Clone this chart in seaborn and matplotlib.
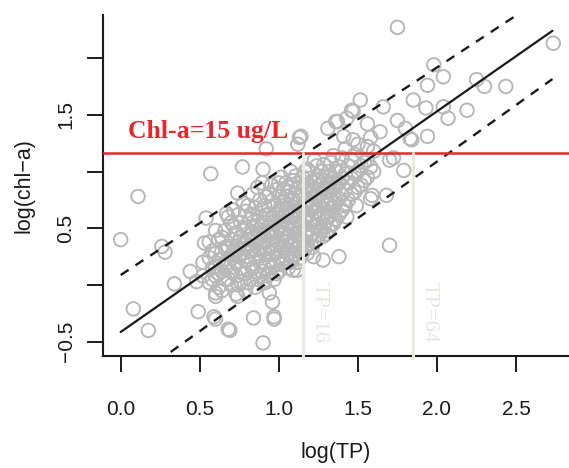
import numpy as np
import pandas as pd
import seaborn as sns
import matplotlib.pyplot as plt

# scatter data: log10(TP) vs log10(chl-a)
outlier_tp = [0.00, 0.11, 0.57, 0.77, 0.90, 0.92, 1.13, 1.12,
              0.08, 0.175, 0.26, 0.28, 0.34, 0.44, 0.48, 0.49, 0.60, 0.68, 0.90, 0.84, 0.97,
              0.53, 0.54, 0.60, 0.67, 0.74, 0.60, 0.60, 0.74, 0.94, 0.96, 0.59, 0.69, 0.97,
              1.31, 1.37, 1.43, 1.47, 1.515, 1.41, 1.47, 1.56, 1.64, 1.66, 1.75, 1.85, 1.83,
              1.79, 1.70, 1.56, 1.70, 1.59, 1.68, 1.49, 1.43, 1.38, 1.28, 1.22, 1.115, 1.09,
              1.18, 1.33, 1.28, 1.75, 1.98, 2.04, 1.94, 2.25, 2.30, 2.435, 2.735, 1.93, 2.04,
              2.07, 2.19, 1.94, 1.84, 1.80, 1.46, 1.36, 1.14, 1.725, 1.58]
outlier_chla = [0.40, 0.78, 0.98, 1.04, 1.02, 1.20, 1.30, 1.24,
                -0.21, -0.40, 0.34, 0.29, 0.01, 0.12, 0.03, -0.235, -0.30, -0.39, -0.51, -0.29, -0.30,
                0.37, 0.59, 0.48, 0.63, 0.81, -0.07, -0.10, -0.10, -0.07, -0.15, -0.28, -0.40, -0.28,
                1.38, 1.44, 1.47, 1.53, 1.63, 1.31, 1.28, 1.42, 1.35, 1.57, 1.45, 1.63, 1.29,
                1.01, 1.10, 1.10, 0.35, 0.79, 0.79, 0.70, 0.60, 0.25, 0.22, 0.25, 0.13, 0.13,
                0.28, 0.53, 0.43, 2.27, 1.94, 1.835, 1.76, 1.81, 1.75, 1.75, 2.13, 1.56, 1.57,
                1.47, 1.54, 1.31, 1.28, 1.38, 1.54, 1.44, 1.31, 1.12, 0.76]

core_tp = ([0.58] * 3 + [0.62] * 4 + [0.66] * 4 + [0.70] * 5 + [0.73] * 5 + [0.76] * 5
           + [0.79] * 6 + [0.82] * 5 + [0.85] * 6 + [0.88] * 6 + [0.91] * 6 + [0.94] * 6
           + [0.97] * 6 + [1.00] * 7 + [1.03] * 6 + [1.06] * 6 + [1.09] * 6 + [1.12] * 6
           + [1.15] * 6 + [1.18] * 6 + [1.21] * 5 + [1.24] * 6 + [1.27] * 5 + [1.30] * 5
           + [1.33] * 4 + [1.36] * 4 + [1.40] * 4 + [1.44] * 3 + [1.48] * 3 + [1.52] * 2
           + [1.56] * 2 + [1.60] * 2)
core_chla = [0.15, 0.30, 0.05,
             0.22, 0.40, -0.02, 0.10,
             0.18, 0.33, 0.05, 0.48,
             0.12, 0.26, 0.40, 0.00, 0.55,
             0.20, 0.34, 0.08, 0.46, -0.08,
             0.15, 0.28, 0.42, 0.03, 0.55,
             0.22, 0.36, 0.10, 0.50, -0.05, 0.65,
             0.18, 0.30, 0.44, 0.05, 0.58,
             0.25, 0.38, 0.12, 0.52, 0.68, -0.02,
             0.20, 0.33, 0.46, 0.08, 0.60, 0.75,
             0.28, 0.40, 0.15, 0.55, 0.02, 0.70,
             0.22, 0.35, 0.48, 0.62, 0.10, 0.80,
             0.30, 0.43, 0.56, 0.18, 0.70, 0.05,
             0.25, 0.38, 0.52, 0.65, 0.12, 0.78, 0.90,
             0.33, 0.46, 0.60, 0.20, 0.73, 0.85,
             0.28, 0.42, 0.55, 0.68, 0.15, 0.82,
             0.36, 0.50, 0.63, 0.24, 0.76, 0.92,
             0.32, 0.45, 0.58, 0.72, 0.86, 0.20,
             0.40, 0.53, 0.66, 0.80, 0.28, 0.95,
             0.36, 0.49, 0.62, 0.75, 0.88, 1.02,
             0.45, 0.58, 0.70, 0.84, 0.33,
             0.52, 0.65, 0.78, 0.92, 0.40, 1.05,
             0.48, 0.60, 0.74, 0.88, 1.00,
             0.56, 0.70, 0.83, 0.96, 0.45,
             0.62, 0.76, 0.90, 1.08,
             0.58, 0.72, 0.86, 1.00,
             0.66, 0.80, 0.94, 1.12,
             0.75, 0.90, 1.05,
             0.82, 0.98, 1.15,
             0.88, 1.05,
             0.95, 1.22,
             1.00, 1.18]

# second pass over the dense cloud, between the columns above
fill_tp = ([0.52] * 2 + [0.56] * 3 + [0.60] * 3 + [0.64] * 4 + [0.68] * 4 + [0.715] * 4
           + [0.745] * 4 + [0.775] * 4 + [0.805] * 4 + [0.835] * 5 + [0.865] * 5 + [0.895] * 5
           + [0.925] * 5 + [0.955] * 6 + [0.985] * 5 + [1.015] * 6 + [1.045] * 6 + [1.075] * 7
           + [1.105] * 6 + [1.135] * 6 + [1.165] * 6 + [1.195] * 5 + [1.225] * 6 + [1.255] * 5
           + [1.285] * 5 + [1.315] * 5 + [1.345] * 5 + [1.38] * 4 + [1.42] * 4 + [1.46] * 3
           + [1.50] * 3 + [1.54] * 2 + [1.58] * 2)
fill_chla = [0.08, 0.20,
             0.02, 0.24, 0.38,
             0.08, 0.28, 0.16,
             0.12, 0.30, 0.42, -0.05,
             0.05, 0.20, 0.34, 0.60,
             0.16, 0.30, 0.52, 0.66,
             0.00, 0.25, 0.38, 0.62,
             0.10, 0.32, 0.48, 0.72,
             0.02, 0.25, 0.40, 0.70,
             0.15, 0.32, 0.46, 0.62, 0.80,
             0.05, 0.28, 0.42, 0.56, 0.86,
             0.12, 0.38, 0.52, 0.66, 0.90,
             0.08, 0.32, 0.46, 0.62, 0.78,
             0.15, 0.28, 0.42, 0.55, 0.74, 0.88,
             0.10, 0.35, 0.48, 0.62, 0.84,
             0.18, 0.30, 0.44, 0.56, 0.70, 0.95,
             0.24, 0.38, 0.50, 0.64, 0.78, 0.90,
             0.20, 0.34, 0.48, 0.60, 0.74, 0.86, 1.00,
             0.27, 0.40, 0.54, 0.66, 0.80, 0.96,
             0.24, 0.36, 0.50, 0.64, 0.78, 0.90,
             0.32, 0.46, 0.58, 0.72, 0.86, 1.00,
             0.42, 0.55, 0.68, 0.80, 0.94,
             0.38, 0.52, 0.64, 0.76, 0.90, 1.10,
             0.44, 0.58, 0.70, 0.84, 0.96,
             0.52, 0.64, 0.78, 0.92, 1.06,
             0.48, 0.60, 0.72, 0.86, 1.00,
             0.54, 0.68, 0.80, 0.94, 1.14,
             0.62, 0.76, 0.90, 1.04,
             0.70, 0.84, 0.98, 1.20,
             0.80, 0.94, 1.10,
             0.86, 1.00, 1.24,
             0.92, 1.08,
             1.04, 1.30]

# fitted line and prediction bounds (end points)
fit_x = [0.00, 2.73]
fit_y = [-0.414, 2.24]
upper_x = [0.00, 2.506]
upper_y = [0.088, 2.38]
lower_x = [0.316, 2.73]
lower_y = [-0.59, 1.815]

chla_limit = 1.16          # log10(15)
tp_marks = [1.153, 1.85]   # TP=16, TP=64
tp_labels = ['TP=16', 'TP=64']

df = pd.DataFrame({'logTP': outlier_tp + core_tp + fill_tp,
                   'logChla': outlier_chla + core_chla + fill_chla})

sns.set_style('ticks')
plt.rcParams['font.family'] = ['Liberation Sans', 'DejaVu Sans']

fig = plt.figure(figsize=(5.69, 4.68), dpi=100)
ax = fig.add_axes([0.1805, 0.2393, 0.8195, 0.7286])

sns.scatterplot(data=df, x='logTP', y='logChla', ax=ax, s=95, marker='o', zorder=2)
pts = ax.collections[0]
pts.set_facecolor('none')
pts.set_edgecolor('#b8b8b8')
pts.set_linewidth(1.4)

ax.plot(fit_x, fit_y, color='#1a1a1a', lw=1.6, zorder=3)
ax.plot(upper_x, upper_y, color='#1a1a1a', lw=1.7, ls=(0, (4, 3.5)), zorder=3)
ax.plot(lower_x, lower_y, color='#1a1a1a', lw=1.7, ls=(0, (4, 3.5)), zorder=3)

ax.axhline(chla_limit, color='#e8262b', lw=1.8, zorder=4)
ax.text(0.044, 1.295, 'Chl-a=15 ug/L', color='#e8262b', fontsize=18.5, fontweight='bold',
        family='Liberation Serif')

for xv, lab in zip(tp_marks, tp_labels):
    ax.plot([xv, xv], [-0.64, chla_limit], color='#eceadf', lw=2.2, zorder=5, clip_on=False)
    ax.text(xv + 0.1, -0.24, lab, rotation=-90, color='#e9e7de', fontsize=16,
            family='Liberation Serif', ha='center', va='center')

ax.set_xlim(-0.1136, 2.8346)
ax.set_ylim(-0.6256, 2.379)
ax.set_xticks([0, 0.5, 1.0, 1.5, 2.0, 2.5])
ax.set_xticklabels(['0.0', '0.5', '1.0', '1.5', '2.0', '2.5'])
ax.set_yticks([-0.5, 0, 0.5, 1.0, 1.5, 2.0])
ax.set_yticklabels(['\u22120.5', '', '0.5', '', '1.5', ''], rotation=90, va='center')
ax.tick_params(axis='both', length=11.5, width=1.4, labelsize=15, color='#1a1a1a',
               labelcolor='#1a1a1a')
ax.tick_params(axis='x', pad=20)
ax.tick_params(axis='y', pad=8)
ax.set_xlabel('log(TP)', fontsize=15.5, labelpad=17, color='#1a1a1a')
ax.set_ylabel('log(chl\u2212a)', fontsize=15.5, labelpad=16, color='#1a1a1a')
sns.despine(ax=ax)
for side in ['left', 'bottom']:
    ax.spines[side].set_linewidth(1.5)
    ax.spines[side].set_color('#1a1a1a')

fig.savefig('out.png', dpi=100)
